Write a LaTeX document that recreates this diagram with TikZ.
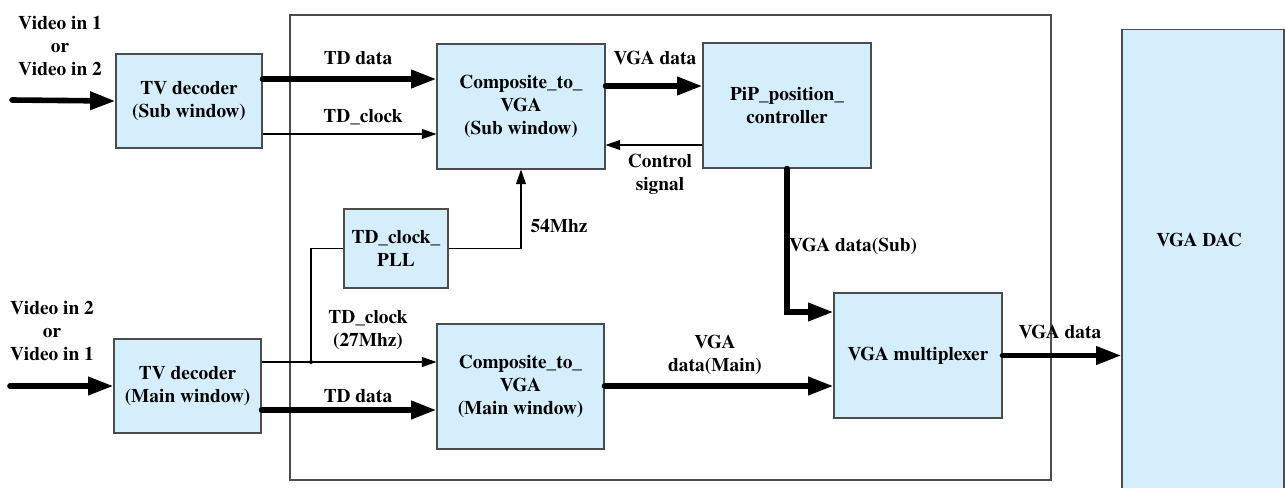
\documentclass[tikz,border=0pt]{standalone}
\usepackage{fontspec}
\setmainfont{texgyretermes}[Extension=.otf,UprightFont=*-regular,BoldFont=*-bold]
\usetikzlibrary{arrows.meta}
\definecolor{boxblue}{RGB}{213,238,252}

\begin{document}
\begin{tikzpicture}[x=0.75pt,y=-0.75pt,
  font=\fontsize{14.5}{17.5}\selectfont\bfseries,
  blk/.style={draw=black!70,fill=boxblue,line width=0.8pt,align=center,inner sep=0pt},
  bus/.style={line width=4.2pt,line cap=round,-{Triangle[length=19pt,width=13pt]}},
  sig/.style={line width=0.9pt,-{Triangle[length=11pt,width=7.5pt]}},
  lbl/.style={align=center,inner sep=1pt}]
\useasboundingbox (0,0) rectangle (1285,487);
\draw[black!70,line width=1pt] (290,15) rectangle (1051,480);
\node[blk,minimum width=109.5pt,minimum height=70.5pt] (tvs) at (189,101) {TV decoder\\(Sub window)};
\node[blk,minimum width=110.25pt,minimum height=70.5pt] (tvm) at (187.5,386) {TV decoder\\(Main window)};
\node[blk,minimum width=126pt,minimum height=93.75pt] (cvs) at (521,106.5) {Composite\_to\_\\VGA\\(Sub window)};
\node[blk,minimum width=126pt,minimum height=93.75pt] (pip) at (787,105.5) {PiP\_position\_\\controller};
\node[blk,minimum width=78pt,minimum height=59.25pt] (pll) at (396,248.5) {TD\_clock\_\\PLL};
\node[blk,minimum width=125.25pt,minimum height=93.75pt] (cvm) at (520.5,386.5) {Composite\_to\_\\VGA\\(Main window)};
\node[blk,minimum width=126pt,minimum height=93.75pt] (mux) at (918,355.5) {VGA multiplexer};
\node[blk,minimum width=121.5pt,minimum height=353pt] (dac) at (1203,264.5) {};
\node (daclbl) at (1199,240) {VGA DAC};
\coordinate (vins) at (12,100);
\coordinate (vinm) at (10,386);
\coordinate (jn) at (311,362);
\draw[bus] (vins) -- (tvs.west);
\draw[bus] (vinm) -- (tvm.west);
\draw[bus] (tvs.east |- 0,79) -- (cvs.west |- 0,79);
\draw[sig] (tvs.east |- 0,134) -- (cvs.west |- 0,134);
\draw[bus] (cvs.east |- 0,86) -- (pip.west |- 0,86);
\draw[sig] (pip.west |- 0,145) -- (cvs.east |- 0,145);
\draw[sig] (pll.east) -| (cvs.south);
\draw[sig] (tvm.east |- jn) -- (cvm.west |- jn);
\draw[line width=0.9pt] (jn) |- (pll.west);
\fill (jn) circle (2);
\draw[bus] (tvm.east |- 0,410) -- (cvm.west |- 0,410);
\draw[bus] (cvm.east |- 0,386) -- (mux.west |- 0,386);
\draw[bus] (pip.south) |- (mux.west |- 0,312);
\draw[bus] (mux.east) -- (dac.west |- mux.east);
\node[lbl] (vinsl) at (60,46) {Video in 1\\or\\Video in 2};
\node[lbl] (vinml) at (52,331) {Video in 2\\or\\Video in 1};
\node[lbl] (tdsl) at (358,58) {TD data};
\node[lbl] (tcsl) at (363,117) {TD\_clock};
\node[lbl] (vgal) at (655,58) {VGA data};
\node[lbl] (ctll) at (660,174) {Control\\signal};
\node[lbl] (mhzl) at (559,226) {54Mhz};
\node[lbl] (subl) at (853,246) {VGA data(Sub)};
\node[lbl] (tcml) at (368,330) {TD\_clock\\(27Mhz)};
\node[lbl] (tdml) at (358,396) {TD data};
\node[lbl] (mainl) at (715,355) {VGA\\data(Main)};
\node[lbl] (outl) at (1060,332) {VGA data};
\end{tikzpicture}
\end{document}
